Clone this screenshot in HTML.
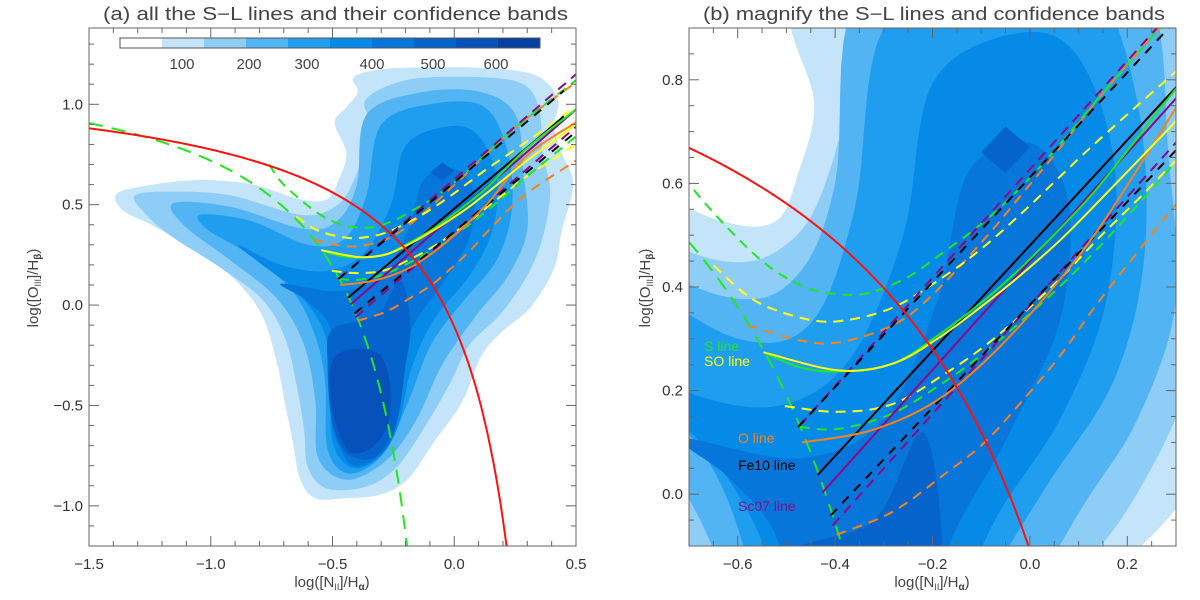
<!DOCTYPE html>
<html style="margin:0;padding:0;width:1200px;height:600px;overflow:hidden"><head><meta charset="utf-8"><style>
html,body{margin:0;padding:0;background:#fff;width:1200px;height:600px;overflow:hidden;}
svg{display:block;font-family:"Liberation Sans",sans-serif;}
</style></head><body>
<svg id="chart" width="1200" height="600" viewBox="0 0 1200 600">
  <g id="layer"></g>
  <text x="103" y="20" font-size="18" fill="#444" textLength="465" lengthAdjust="spacingAndGlyphs">(a) all the S−L lines and their confidence bands</text>
  <text x="703" y="20" font-size="18" fill="#444" textLength="462" lengthAdjust="spacingAndGlyphs">(b) magnify the S−L lines and confidence bands</text>
  <text x="332" y="587" font-size="15" fill="#444" text-anchor="middle">log([N<tspan font-size="9" dy="3">II</tspan><tspan dy="-3">]/H</tspan><tspan font-size="10" dy="3" font-weight="bold">α</tspan><tspan dy="-3">)</tspan></text>
  <text x="932" y="587" font-size="15" fill="#444" text-anchor="middle">log([N<tspan font-size="9" dy="3">II</tspan><tspan dy="-3">]/H</tspan><tspan font-size="10" dy="3" font-weight="bold">α</tspan><tspan dy="-3">)</tspan></text>
  <text transform="translate(38,288) rotate(-90)" font-size="15" fill="#444" text-anchor="middle">log([O<tspan font-size="9" dy="3">III</tspan><tspan dy="-3">]/H</tspan><tspan font-size="10" dy="3" font-weight="bold">β</tspan><tspan dy="-3">)</tspan></text>
  <text transform="translate(650,288) rotate(-90)" font-size="15" fill="#444" text-anchor="middle">log([O<tspan font-size="9" dy="3">III</tspan><tspan dy="-3">]/H</tspan><tspan font-size="10" dy="3" font-weight="bold">β</tspan><tspan dy="-3">)</tspan></text>
  <g font-size="14">
    <text x="704" y="351" fill="#22e622">S line</text>
    <text x="704" y="366" fill="#ffff14">SO line</text>
    <text x="738" y="443" fill="#f58220">O line</text>
    <text x="738" y="470" fill="#000">Fe10 line</text>
    <text x="738" y="511" fill="#8a0a8a">Sc07 line</text>
  </g>
</svg>
<script>
// ---------- data ----------
const levelColors = ["#c4e4fa","#8ecdf6","#52b4f2","#1f9ef0","#068ae8","#0676da","#0564cc","#0652ba","#063fa2"];
const colorbarLabels = ["100","200","300","400","500","600"];
const colorbarLabelPos = [182,249,307,372,433,496];
const contour1 = [[-1.391,0.546],[-1.312,0.584],[-1.075,0.622],[-0.838,0.603],[-0.633,0.527],[-0.522,0.527],[-0.475,0.622],[-0.443,0.756],[-0.491,0.908],[-0.443,0.985],[-0.396,1.061],[-0.412,1.137],[-0.285,1.176],[-0.048,1.185],[0.189,1.176],[0.347,1.137],[0.426,1.023],[0.41,0.889],[0.442,0.756],[0.489,0.603],[0.442,0.374],[0.41,0.183],[0.315,-0.008],[0.189,-0.141],[0.11,-0.256],[0.031,-0.485],[-0.08,-0.676],[-0.19,-0.866],[-0.301,-0.943],[-0.443,-0.962],[-0.57,-0.962],[-0.633,-0.866],[-0.664,-0.676],[-0.696,-0.485],[-0.727,-0.294],[-0.791,-0.046],[-0.917,0.145],[-1.075,0.279],[-1.233,0.393],[-1.359,0.469]];
const contour2 = [[-1.312,0.546],[-1.154,0.565],[-0.917,0.546],[-0.633,0.45],[-0.491,0.489],[-0.412,0.622],[-0.348,0.889],[-0.364,1.023],[-0.206,1.118],[0.031,1.137],[0.268,1.109],[0.347,0.985],[0.363,0.756],[0.394,0.565],[0.363,0.336],[0.299,0.145],[0.189,-0.046],[0.062,-0.198],[-0.017,-0.389],[-0.127,-0.618],[-0.238,-0.809],[-0.364,-0.905],[-0.522,-0.914],[-0.601,-0.809],[-0.617,-0.618],[-0.649,-0.389],[-0.696,-0.16],[-0.791,0.031],[-0.98,0.202],[-1.154,0.336],[-1.265,0.45]];
const contour3 = [[-1.154,0.508],[-0.917,0.489],[-0.62,0.38],[-0.48,0.42],[-0.4,0.6],[-0.36,0.95],[-0.127,1.061],[0.11,1.061],[0.252,0.947],[0.284,0.66],[0.3,0.374],[0.221,0.145],[0.094,-0.046],[-0.048,-0.294],[-0.159,-0.58],[-0.285,-0.78],[-0.443,-0.87],[-0.56,-0.76],[-0.57,-0.485],[-0.617,-0.198],[-0.727,0.031],[-0.917,0.221],[-1.107,0.393]];
const contour4 = [[-1.043,0.45],[-0.838,0.42],[-0.6,0.3],[-0.45,0.33],[-0.36,0.55],[-0.3,0.9],[-0.08,1.004],[0.126,0.985],[0.221,0.756],[0.236,0.469],[0.173,0.221],[0.031,0.011],[-0.096,-0.198],[-0.19,-0.485],[-0.29,-0.74],[-0.43,-0.84],[-0.52,-0.72],[-0.53,-0.389],[-0.57,-0.16],[-0.664,0.069],[-0.854,0.26],[-1.012,0.374]];
const contour5 = [[-0.885,0.298],[-0.712,0.2],[-0.52,0.17],[-0.37,0.26],[-0.26,0.5],[-0.2,0.794],[-0.032,0.889],[0.094,0.851],[0.173,0.641],[0.157,0.374],[0.062,0.145],[-0.08,-0.065],[-0.175,-0.313],[-0.23,-0.6],[-0.31,-0.76],[-0.42,-0.81],[-0.5,-0.68],[-0.51,-0.351],[-0.538,-0.122],[-0.649,0.069],[-0.791,0.202]];
const contour6 = [[-0.712,0.107],[-0.475,0.069],[-0.301,0.145],[-0.19,0.374],[-0.127,0.622],[0.0,0.679],[0.079,0.565],[0.062,0.336],[-0.048,0.107],[-0.175,-0.122],[-0.215,-0.389],[-0.25,-0.65],[-0.33,-0.77],[-0.43,-0.79],[-0.49,-0.6],[-0.49,-0.275],[-0.52,-0.084],[-0.617,0.031]];
const contour7 = [[-0.5,-0.12],[-0.32,-0.05],[-0.22,0.12],[-0.18,-0.1],[-0.2,-0.3],[-0.24,-0.6],[-0.33,-0.76],[-0.44,-0.74],[-0.5,-0.6],[-0.52,-0.3]];
const contour7b = [[-0.1,0.66],[-0.05,0.71],[0.0,0.67],[-0.05,0.62]];
const contour8 = [[-0.49,-0.256],[-0.333,-0.227],[-0.269,-0.351],[-0.269,-0.58],[-0.34,-0.71],[-0.44,-0.72],[-0.506,-0.485]];
const contours = [contour1,contour2,contour3,contour4,contour5,contour6,contour7,contour8];

const kewleyCoef = [0.61,0.47,1.19];
const kauffmannCoef = [0.61,0.05,1.3];

const sLine = [[-0.547,0.274],[-0.472,0.245],[-0.393,0.237],[-0.282,0.252],[-0.187,0.308],[-0.093,0.375],[-0.014,0.441],[0.065,0.516],[0.144,0.597],[0.3,0.783],[0.5,0.975]];
const soLine = [[-0.547,0.274],[-0.393,0.239],[-0.282,0.252],[-0.187,0.302],[-0.093,0.367],[-0.014,0.427],[0.065,0.493],[0.144,0.568],[0.3,0.72],[0.5,0.9]];
const oLine = [[-0.468,0.1],[-0.33,0.122],[-0.203,0.174],[-0.093,0.256],[0.026,0.375],[0.144,0.516],[0.3,0.746],[0.5,0.91]];
const fe10Line = [[-0.436,0.037],[0.279,0.764],[0.45,0.94]];
const sc07Line = [[-0.426,0.003],[0.3,0.764],[0.5,0.974]];
const sUpper = [[-0.76,0.70],[-0.7,0.599],[-0.567,0.464],[-0.472,0.404],[-0.393,0.386],[-0.33,0.389],[-0.251,0.419],[-0.172,0.471],[-0.093,0.527],[-0.014,0.597],[0.065,0.679],[0.144,0.768],[0.255,0.887],[0.5,1.12]];
const sLower = [[-0.472,0.13],[-0.393,0.126],[-0.282,0.156],[-0.172,0.219],[-0.093,0.274],[-0.014,0.337],[0.065,0.404],[0.144,0.479],[0.223,0.56],[0.3,0.642],[0.5,0.84]];
const soUpper = [[-0.649,0.441],[-0.567,0.375],[-0.472,0.341],[-0.393,0.334],[-0.282,0.36],[-0.172,0.423],[-0.093,0.479],[-0.014,0.545],[0.065,0.616],[0.144,0.686],[0.3,0.816],[0.5,0.99]];
const soLower = [[-0.503,0.17],[-0.393,0.159],[-0.282,0.174],[-0.172,0.234],[-0.093,0.286],[-0.014,0.349],[0.065,0.419],[0.144,0.497],[0.223,0.57],[0.29,0.635],[0.5,0.8]];
const oUpper = [[-0.578,0.326],[-0.472,0.297],[-0.393,0.293],[-0.282,0.326],[-0.203,0.382],[-0.093,0.493],[-0.014,0.582],[0.065,0.672],[0.144,0.768],[0.263,0.898],[0.5,1.11]];
const oLower = [[-0.397,-0.078],[-0.282,-0.034],[-0.172,0.041],[-0.093,0.1],[-0.014,0.182],[0.065,0.271],[0.144,0.375],[0.287,0.545],[0.5,0.72]];
const fe10Upper = [[-0.476,0.13],[0.271,0.886],[0.45,1.067]];
const fe10Lower = [[-0.409,-0.041],[0.3,0.664],[0.5,0.863]];
const sc07Upper = [[-0.472,0.133],[0.255,0.894],[0.5,1.15]];
const sc07Lower = [[-0.405,-0.06],[0.3,0.679],[0.5,0.888]];

const xTicksA = [-1.5,-1.0,-0.5,0.0,0.5];
const yTicksA = [-1.0,-0.5,0.0,0.5,1.0];
const xTicksB = [-0.6,-0.4,-0.2,0.0,0.2];
const yTicksB = [0.0,0.2,0.4,0.6,0.8];

// ---------- drawing ----------
const NS="http://www.w3.org/2000/svg";
const layer=document.getElementById('layer');
function el(tag,attrs,parent){const e=document.createElementNS(NS,tag);for(const k in attrs)e.setAttribute(k,attrs[k]);(parent||layer).appendChild(e);return e;}
function smoothPath(P,closed){
  const n=P.length;if(n<3)return 'M'+P.map(p=>p[0].toFixed(1)+','+p[1].toFixed(1)).join('L')+(closed?'Z':'');
  const g=i=>closed?P[(i+n)%n]:P[Math.max(0,Math.min(n-1,i))];
  let d='M'+P[0][0].toFixed(1)+','+P[0][1].toFixed(1);
  const m=closed?n:n-1;
  for(let i=0;i<m;i++){
    const p0=g(i-1),p1=g(i),p2=g(i+1),p3=g(i+2);
    const c1=[p1[0]+(p2[0]-p0[0])/6,p1[1]+(p2[1]-p0[1])/6];
    const c2=[p2[0]-(p3[0]-p1[0])/6,p2[1]-(p3[1]-p1[1])/6];
    d+='C'+c1[0].toFixed(1)+','+c1[1].toFixed(1)+' '+c2[0].toFixed(1)+','+c2[1].toFixed(1)+' '+p2[0].toFixed(1)+','+p2[1].toFixed(1);
  }
  return d+(closed?'Z':'');
}
// densify then clip polygon (pixel coords) to rectangle
function densify(P){const out=[];for(let i=0;i<P.length;i++){const a=P[i],b=P[(i+1)%P.length];for(let k=0;k<4;k++){const t=k/4;out.push([a[0]+(b[0]-a[0])*t,a[1]+(b[1]-a[1])*t]);}}return out;}
function clipPoly(P,r){
  const edges=[[p=>p[0]>=r.l,(a,b)=>{const t=(r.l-a[0])/(b[0]-a[0]);return [r.l,a[1]+t*(b[1]-a[1])];}],
    [p=>p[0]<=r.r,(a,b)=>{const t=(r.r-a[0])/(b[0]-a[0]);return [r.r,a[1]+t*(b[1]-a[1])];}],
    [p=>p[1]>=r.t,(a,b)=>{const t=(r.t-a[1])/(b[1]-a[1]);return [a[0]+t*(b[0]-a[0]),r.t];}],
    [p=>p[1]<=r.b,(a,b)=>{const t=(r.b-a[1])/(b[1]-a[1]);return [a[0]+t*(b[0]-a[0]),r.b];}]];
  let out=P;
  for(const [inside,inter] of edges){
    const inp=out;out=[];if(!inp.length)break;
    for(let i=0;i<inp.length;i++){const cur=inp[i],prev=inp[(i+inp.length-1)%inp.length];
      if(inside(cur)){if(!inside(prev))out.push(inter(prev,cur));out.push(cur);}
      else if(inside(prev))out.push(inter(prev,cur));}
  }
  return out;
}
function polyD(P){return P.length?'M'+P.map(p=>p[0].toFixed(1)+','+p[1].toFixed(1)).join('L')+'Z':'';}
function truncate(arr,xd,yd){
  const out=[];
  for(let i=0;i<arr.length;i++){
    const p=arr[i];
    if(p[0]<=xd[1]&&p[1]<=yd[1]){out.push(p);continue;}
    if(i>0){const a=arr[i-1];
      let t=1;
      if(p[0]>xd[1])t=Math.min(t,(xd[1]-a[0])/(p[0]-a[0]));
      if(p[1]>yd[1])t=Math.min(t,(yd[1]-a[1])/(p[1]-a[1]));
      out.push([a[0]+t*(p[0]-a[0]),a[1]+t*(p[1]-a[1])]);}
    break;
  }
  return out;
}
// sample a catmull-rom closed curve into points
function sampleClosed(P){
  const n=P.length,out=[];
  for(let i=0;i<n;i++){const p0=P[(i-1+n)%n],p1=P[i],p2=P[(i+1)%n],p3=P[(i+2)%n];
    for(let k=0;k<8;k++){const t=k/8,t2=t*t,t3=t2*t;
      const f=(a,b,c,d)=>0.5*((2*b)+(-a+c)*t+(2*a-5*b+4*c-d)*t2+(-a+3*b-3*c+d)*t3);
      out.push([f(p0[0],p1[0],p2[0],p3[0]),f(p0[1],p1[1],p2[1],p3[1])]);}}
  return out;
}

const GREEN="#22e622",YELLOW="#ffff14",ORANGE="#f58220",PURPLE="#8a0a8a",BLACK="#000",RED="#ff1010";

function panel(id,box,xd,yd,xt,yt,xMinor,yMinor){
  const sx=v=>box.l+(v-xd[0])/(xd[1]-xd[0])*(box.r-box.l);
  const sy=v=>box.b-(v-yd[0])/(yd[1]-yd[0])*(box.b-box.t);
  const defs=el('defs',{});
  const cp=el('clipPath',{id:'clip'+id},defs);
  el('rect',{x:box.l,y:box.t,width:box.r-box.l,height:box.b-box.t},cp);
  const g=el('g',{'clip-path':'url(#clip'+id+')'});
  
  
  el('rect',{x:box.l,y:box.t,width:box.r-box.l,height:box.b-box.t,fill:'#fff'},g);
  contours.forEach((poly,i)=>{
    const pts=clipPoly(sampleClosed(poly.map(q=>[sx(q[0]),sy(q[1])])),box);
    const p=el('path',{d:polyD(pts),fill:levelColors[i]},g);
    
    
  });
  const isl=el('polygon',{points:contour7b.map(q=>sx(q[0]).toFixed(1)+','+sy(q[1]).toFixed(1)).join(' '),fill:levelColors[6]},g);
  
  
  function curve(coef,name,color,dash){
    const pts=[];const n=400;
    for(let i=0;i<=n;i++){const x=xd[0]+(Math.min(xd[1],coef[1]-0.001)-xd[0])*i/n;const y=coef[0]/(x-coef[1])+coef[2];
      if(y<yd[0]){const xe=coef[1]+coef[0]/(yd[0]-coef[2]);pts.push(sx(xe).toFixed(1)+','+sy(yd[0]).toFixed(1));break;}
      pts.push(sx(x).toFixed(1)+','+sy(Math.min(y,yd[1])).toFixed(1));}
    const pl=el('polyline',{points:pts.join(' '),fill:'none',stroke:color,'stroke-width':2,'stroke-dasharray':dash||'none'},g);
    
    
  }
  function line(arr,name,color,dash){
    const a=truncate(arr,xd,yd);
    const pl=el('path',{d:smoothPath(a.map(q=>[sx(q[0]),sy(q[1])]),false),fill:'none',stroke:color,'stroke-width':2,'stroke-dasharray':dash||'none'},g);
    
    
  }
  curve(kauffmannCoef,'kauffmann-line',GREEN,'14 9');
  const D='10 7';
  line(oLower,'o-line-lower-band',ORANGE,D);
  line(oUpper,'o-line-upper-band',ORANGE,D);
  line(soUpper,'so-line-upper-band',YELLOW,D);
  line(soLower,'so-line-lower-band',YELLOW,D);
  line(sUpper,'s-line-upper-band',GREEN,D);
  line(sLower,'s-line-lower-band',GREEN,D);
  line(sc07Upper,'sc07-line-upper-band',PURPLE,D);
  line(sc07Lower,'sc07-line-lower-band',PURPLE,D);
  line(fe10Upper,'fe10-line-upper-band',BLACK,'9 8');
  line(fe10Lower,'fe10-line-lower-band',BLACK,'9 8');
  line(fe10Line,'fe10-line',BLACK);
  line(sc07Line,'sc07-line',PURPLE);
  line(oLine,'o-line',ORANGE);
  line(sLine,'s-line',GREEN);
  line(soLine,'so-line',YELLOW);
  curve(kewleyCoef,'kewley-line',RED);
  const ax=el('g',{stroke:'#666','stroke-width':1,fill:'none'});
  
  
  el('rect',{x:box.l,y:box.t,width:box.r-box.l,height:box.b-box.t},ax);
  const eps=1e-6;
  for(let v=Math.ceil(xd[0]/xMinor-eps)*xMinor;v<=xd[1]+eps;v+=xMinor){
    const major=xt.some(t=>Math.abs(t-v)<eps);const L=major?10:5;const X=sx(v);
    el('line',{x1:X,y1:box.b,x2:X,y2:box.b-L},ax);el('line',{x1:X,y1:box.t,x2:X,y2:box.t+L},ax);
  }
  for(let v=Math.ceil(yd[0]/yMinor-eps)*yMinor;v<=yd[1]+eps;v+=yMinor){
    const major=yt.some(t=>Math.abs(t-v)<eps);const L=major?10:5;const Y=sy(v);
    el('line',{x1:box.l,y1:Y,x2:box.l+L,y2:Y},ax);el('line',{x1:box.r,y1:Y,x2:box.r-L,y2:Y},ax);
  }
  xt.forEach(v=>{const t=el('text',{x:sx(v),y:box.b+23,'text-anchor':'middle','font-size':15,fill:'#333'});t.textContent=(v<0?'\u2212':'')+Math.abs(v).toFixed(1);
    });
  yt.forEach(v=>{const t=el('text',{x:box.l-6,y:sy(v)+5,'text-anchor':'end','font-size':15,fill:'#333'});t.textContent=(v<0?'\u2212':'')+Math.abs(v).toFixed(1);
    });
}

const boxA={l:89,r:576,t:28,b:546}, boxB={l:689,r:1176,t:28,b:546};
panel('a',boxA,[-1.5,0.5],[-1.2,1.38],xTicksA,yTicksA,0.1,0.1);
panel('b',boxB,[-0.7,0.3],[-0.1,0.9],xTicksB,yTicksB,0.05,0.05);

const cb=el('g',{});


const cbColors=['#fff'].concat(levelColors);
cbColors.forEach((c,i)=>{el('rect',{x:120+i*42,y:38,width:42,height:10,fill:c},cb);});
el('rect',{x:120,y:38,width:420,height:10,fill:'none',stroke:'#555','stroke-width':1},cb);
colorbarLabels.forEach((s,i)=>{const t=el('text',{x:colorbarLabelPos[i],y:69,'text-anchor':'middle','font-size':15,fill:'#444'},cb);t.textContent=s;
  });
</script>
</body></html>
